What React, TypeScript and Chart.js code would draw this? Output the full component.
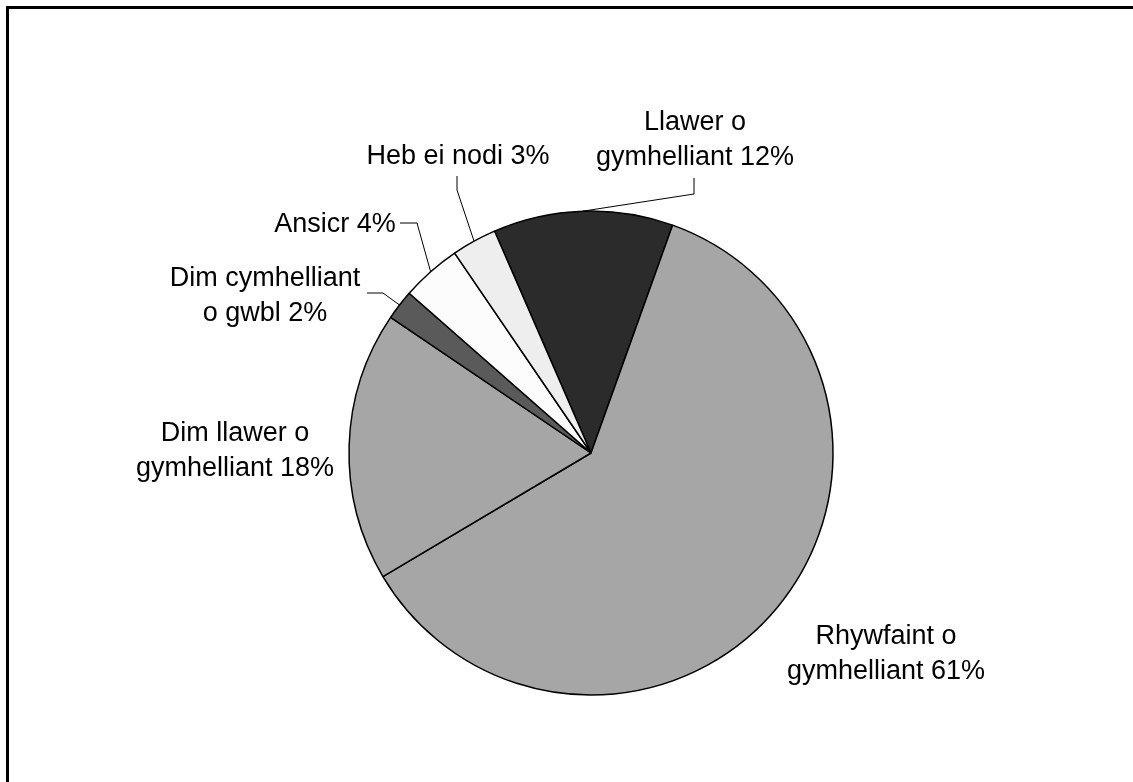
import React, { useEffect, useRef } from "react";
import { Chart, registerables } from "chart.js";

Chart.register(...registerables);

const categories = [
  ["Llawer o", "gymhelliant 12%"],
  ["Rhywfaint o", "gymhelliant 61%"],
  ["Dim llawer o", "gymhelliant 18%"],
  ["Dim cymhelliant", "o gwbl 2%"],
  ["Ansicr 4%"],
  ["Heb ei nodi 3%"],
];
const values = [12, 61, 18, 2, 4, 3];
const sliceColors = ["#2b2b2b", "#a6a6a6", "#a6a6a6", "#5a5a5a", "#fcfcfc", "#eeeeee"];

// label layout relative to pie centre: text centre x, first baseline y, optional leader elbow
type Layout = { dx: number; dy: number; leader?: [number, number][] };
const labelLayout: Layout[] = [
  { dx: 104, dy: -323, leader: [[103, -275], [103, -259]] },
  { dx: 295, dy: 191 },
  { dx: -356, dy: -12 },
  { dx: -326, dy: -167, leader: [[-224, -160], [-208, -160]] },
  { dx: -256, dy: -221, leader: [[-191, -230], [-174, -230]] },
  { dx: -133, dy: -289, leader: [[-134, -277], [-134, -263]] },
];
const LINE_H = 35;

const labelPlugin = {
  id: "pieLabels",
  afterDatasetsDraw(chart: any) {
    const ctx = chart.ctx;
    const meta = chart.getDatasetMeta(0);
    ctx.save();
    ctx.fillStyle = "#000";
    ctx.font = '27px "Liberation Sans", Arial, sans-serif';
    ctx.textAlign = "center";
    ctx.textBaseline = "alphabetic";
    meta.data.forEach((arc: any, i: number) => {
      const { x, y, outerRadius, startAngle, endAngle } = arc.getProps(
        ["x", "y", "outerRadius", "startAngle", "endAngle"],
        true
      );
      const lay = labelLayout[i];
      const lines = categories[i];
      lines.forEach((t, k) => {
        ctx.fillText(t, x + lay.dx, y + lay.dy + k * LINE_H);
      });
      if (lay.leader) {
        const mid = (startAngle + endAngle) / 2;
        const px = x + outerRadius * Math.cos(mid);
        const py = y + outerRadius * Math.sin(mid);
        ctx.beginPath();
        ctx.strokeStyle = "#000";
        ctx.lineWidth = 1;
        ctx.moveTo(x + lay.leader[0][0], y + lay.leader[0][1]);
        ctx.lineTo(x + lay.leader[1][0], y + lay.leader[1][1]);
        ctx.lineTo(px, py);
        ctx.stroke();
      }
    });
    ctx.restore();
  },
};

export default function App() {
  const ref = useRef<HTMLCanvasElement>(null);
  useEffect(() => {
    if (!ref.current) return;
    const chart = new Chart(ref.current, {
      type: "pie",
      data: {
        labels: categories.map((c) => c.join(" ")),
        datasets: [
          {
            data: values,
            backgroundColor: sliceColors,
            borderColor: "#000",
            borderWidth: 1.5,
          },
        ],
      },
      options: {
        animation: false,
        responsive: false,
        radius: 242,
        rotation: -23.5,
        layout: { padding: { left: 49, right: 0, top: 124, bottom: 0 } },
        plugins: {
          legend: { display: false },
          tooltip: { enabled: false },
        },
      } as any,
      plugins: [labelPlugin],
    });
    return () => chart.destroy();
  }, []);
  return (
    <div style={{ position: "fixed", left: 0, top: 0, width: 1133, height: 782, background: "#fff", overflow: "hidden" }}>
      <div
        style={{
          position: "absolute",
          left: 6,
          top: 6,
          width: 1200,
          height: 900,
          borderTop: "3px solid #000",
          borderLeft: "3px solid #000",
          boxSizing: "border-box",
        }}
      />
      <canvas ref={ref} width={1133} height={782} style={{ position: "absolute", left: 0, top: 0 }} />
    </div>
  );
}
